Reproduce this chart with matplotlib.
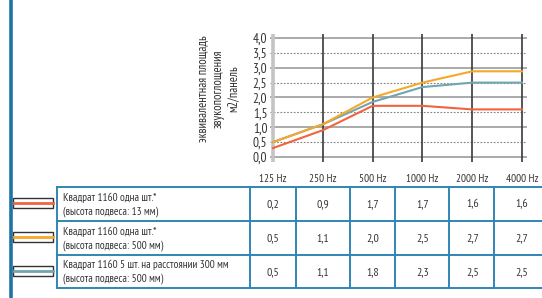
import matplotlib
matplotlib.use("Agg")
import matplotlib.pyplot as plt
from matplotlib.patches import Rectangle
from matplotlib.lines import Line2D

plt.rcParams['font.family'] = ['PT Sans Narrow', 'DejaVu Sans']

freqs = ['125 Hz', '250 Hz', '500 Hz', '1000 Hz', '2000 Hz', '4000 Hz']
yticks = [0.0, 0.5, 1.0, 1.5, 2.0, 2.5, 3.0, 3.5, 4.0]

# plotted curves (as drawn)
curve_a = [0.3, 0.9, 1.72, 1.72, 1.6, 1.6]
curve_b = [0.5, 1.1, 2.0, 2.5, 2.88, 2.88]
curve_c = [0.5, 1.1, 1.85, 2.35, 2.5, 2.5]

# table values
table_a = ['0,2', '0,9', '1,7', '1,7', '1,6', '1,6']
table_b = ['0,5', '1,1', '2,0', '2,5', '2,7', '2,7']
table_c = ['0,5', '1,1', '1,8', '2,3', '2,5', '2,5']

labels_1 = ['Квадрат 1160 одна шт.*', 'Квадрат 1160 одна шт.*', 'Квадрат 1160 5 шт. на расстоянии 300 мм']
labels_2 = ['(высота подвеса: 13 мм)', '(высота подвеса: 500 мм)', '(высота подвеса: 500 мм)']

colors = ['#f0643f', '#f6a82a', '#6fa6b0']
ylabel = 'эквивалентная площадь\nзвукопоглощения\nм2/панель'

W, H = 542, 298
fig = plt.figure(figsize=(W / 100, H / 100), dpi=100)
TXT = '#333333'

# chart axes in pixel layout
ax_l, ax_r, ax_t, ax_b = 270, 527, 34, 162
ax = fig.add_axes([ax_l / W, 1 - ax_b / H, (ax_r - ax_l) / W, (ax_b - ax_t) / H])
ax.set_xlim(-0.06, 5.1)
ax.set_ylim(-0.168, 4.134)
for s in ax.spines.values():
    s.set_visible(False)
for y in yticks:
    if abs(y - round(y)) < 1e-9:
        ax.axhline(y, color='#9c9c9c', lw=1.2, zorder=1)
    else:
        ax.axhline(y, color='#808080', lw=0.8, ls=(0, (1.5, 1.5)), zorder=1)
ax.axvline(0, color='#c4c4c4', lw=2.6, zorder=2)
for i in range(1, len(freqs)):
    ax.axvline(i, color='#3a3a3a', lw=1.2, zorder=2)
for vals, c in zip([curve_c, curve_b, curve_a], [colors[2], colors[1], colors[0]]):
    ax.plot(range(len(freqs)), vals, color=c, lw=1.5, zorder=3)
ax.set_yticks(yticks)
ax.set_yticklabels([f'{v:.1f}'.replace('.', ',') for v in yticks], fontsize=9.5, color=TXT)
ax.set_xticks(range(len(freqs)))
ax.set_xticklabels(freqs, fontsize=8, color=TXT)
ax.tick_params(axis='y', length=0, pad=2)
ax.tick_params(axis='x', length=0, pad=8.5)

# y label, three rotated lines
for k, line in enumerate(ylabel.split('\n')):
    fig.text((203 + 15 * k) / W, 1 - 89 / H, line, rotation=90, ha='center', va='center',
             fontsize=9, color=TXT)

# overlay axes in pixel coordinates for the table
ov = fig.add_axes([0, 0, 1, 1], zorder=-1)
ov.set_xlim(0, W)
ov.set_ylim(H, 0)
ov.axis('off')

blue = '#2f86b5'
ov.add_line(Line2D([10.5, 10.5], [0, H], color='#1f74a6', lw=2.6))
row_edges = [187, 221, 255, 288]
for y in row_edges:
    ov.add_line(Line2D([57, W], [y, y], color=blue, lw=1.4))
col_edges = [57, 250, 296, 350, 395, 449, 494]
for x in col_edges:
    ov.add_line(Line2D([x, x], [row_edges[0], row_edges[-1]], color=blue, lw=1.4))

xcat = [273 + 49.8 * i for i in range(len(freqs))]
for r, vals in enumerate([table_a, table_b, table_c]):
    yc = (row_edges[r] + row_edges[r + 1]) / 2
    for x, v in zip(xcat, vals):
        ov.text(x, yc + 0.5, v, ha='center', va='center', fontsize=8.5, color=TXT)
    ov.text(63, yc - 6.5, labels_1[r], ha='left', va='center', fontsize=8, color=TXT)
    ov.text(63, yc + 7.5, labels_2[r], ha='left', va='center', fontsize=8, color=TXT)
    # legend swatch
    ov.add_patch(Rectangle((13, yc - 6), 40, 10, facecolor='white', edgecolor='#333333', lw=1.0))
    ov.add_line(Line2D([13.5, 52.5], [yc - 1, yc - 1], color=colors[r], lw=2.0))

fig.savefig('out.png', dpi=100)
